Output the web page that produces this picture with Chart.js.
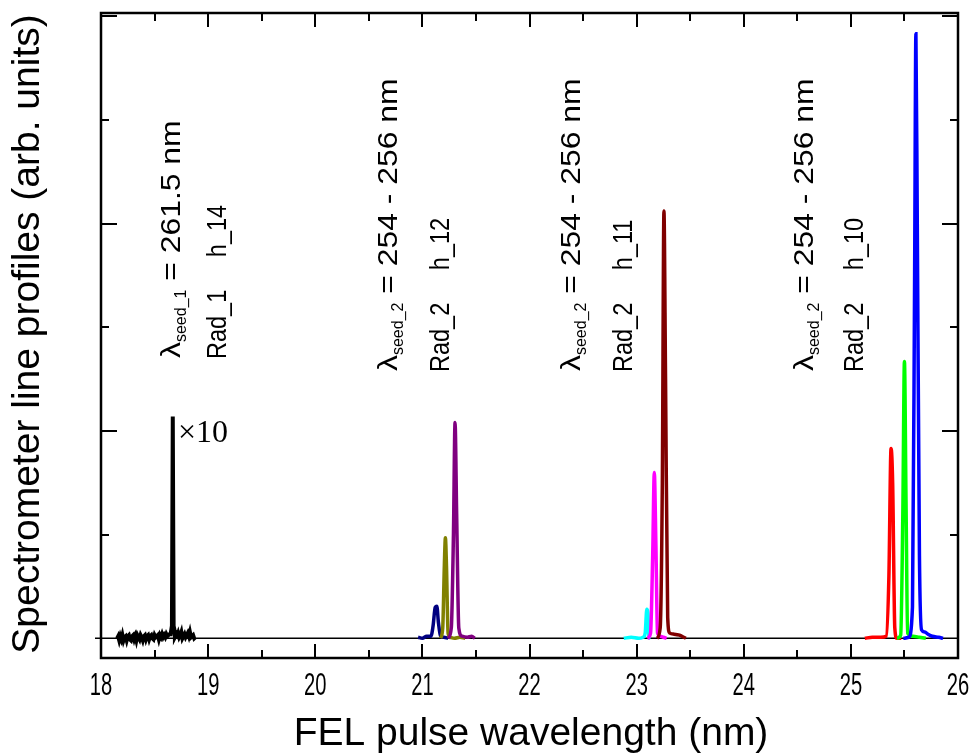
<!DOCTYPE html>
<html><head><meta charset="utf-8">
<script src="https://cdn.jsdelivr.net/npm/chart.js@4/dist/chart.umd.min.js"></script>
<style>html,body{margin:0;padding:0;background:#fff;}#wrap{width:974px;height:755px;}</style>
</head><body><div id="wrap"><canvas id="c" width="974" height="755"></canvas></div>
<script>
// ---- data ----
const xTickLabels = [18, 19, 20, 21, 22, 23, 24, 25, 26];

const blackX = [18.15,18.16,18.17,18.18,18.19,18.20,18.21,18.22,18.23,18.24,18.25,18.26,18.27,18.28,18.29,18.30,18.31,18.32,18.33,18.34,18.35,18.36,18.37,18.38,18.39,18.40,18.41,18.42,18.43,18.44,18.45,18.46,18.47,18.48,18.49,18.50,18.51,18.52,18.53,18.54,18.55,18.56,18.57,18.58,18.59,18.60,18.61,18.62,18.63,18.64,18.65,18.662,18.670,18.678,18.686,18.69,18.70,18.71,18.72,18.73,18.74,18.75,18.76,18.77,18.78,18.79,18.80,18.81,18.82,18.83,18.84,18.85,18.86,18.87,18.88];
const blackY = [0.00,0.02,-0.02,0.02,-0.01,0.03,-0.02,0.01,0.02,-0.02,0.02,0.03,-0.01,-0.02,0.02,0.03,-0.01,0.02,-0.02,0.03,0.01,-0.01,0.03,0.01,-0.02,0.02,0.03,-0.01,0.02,0.03,-0.01,0.02,0.03,0.00,-0.01,0.03,0.01,0.02,0.03,-0.01,0.03,0.01,0.04,0.01,0.03,0.01,0.04,0.02,0.03,0.04,0.04,0.12,2.14,0.12,0.08,0.01,0.03,0.02,0.05,0.01,0.03,0.06,0.00,0.02,0.04,0.01,0.03,0.05,0.02,0.06,0.01,0.02,0.03,0.00,0.01];

const navyX = [20.96,21.00,21.04,21.08,21.10,21.12,21.135,21.15,21.17,21.20,21.24];
const navyY = [0.01,0.00,0.02,0.02,0.12,0.30,0.31,0.15,0.02,0.01,0.00];

const oliveX = [21.17,21.19,21.205,21.215,21.225,21.24,21.26,21.30,21.35,21.40];
const oliveY = [0.00,0.10,0.70,0.97,0.70,0.05,0.01,0.00,0.01,0.00];

const purpleX = [21.24,21.27,21.29,21.305,21.32,21.34,21.37,21.42,21.46,21.49];
const purpleY = [0.00,0.10,1.00,2.08,1.20,0.10,0.02,0.01,0.02,0.00];

const cyanX = [22.88,22.95,23.02,23.06,23.08,23.095,23.105,23.115,23.13];
const cyanY = [0.00,0.01,0.00,0.01,0.05,0.28,0.25,0.02,0.00];

const magentaX = [23.10,23.13,23.15,23.165,23.18,23.195,23.22,23.25,23.28];
const magentaY = [0.00,0.05,0.80,1.60,0.90,0.05,0.02,0.01,0.00];

const darkRedX = [23.19,23.22,23.24,23.255,23.27,23.29,23.31,23.35,23.40,23.44,23.46];
const darkRedY = [0.00,0.10,1.50,4.12,2.50,0.20,0.05,0.04,0.03,0.01,0.00];

const redX = [25.13,25.20,25.28,25.33,25.355,25.375,25.39,25.41,25.43,25.47];
const redY = [0.00,0.01,0.01,0.02,0.60,1.83,1.50,0.10,0.00,0.00];

const greenX = [25.43,25.465,25.485,25.50,25.515,25.53,25.58,25.64,25.70];
const greenY = [0.00,0.03,1.20,2.67,1.30,0.05,0.02,0.01,0.00];

const blueX = [25.49,25.54,25.575,25.595,25.607,25.62,25.64,25.66,25.69,25.72,25.76,25.82,25.86];
const blueY = [0.00,0.01,0.30,3.50,5.83,4.00,0.80,0.08,0.06,0.04,0.02,0.01,0.00];

const seriesList = [
  {xs: blackX, ys: blackY, color: '#000000', width: 4, straight: true},
  {xs: navyX, ys: navyY, color: '#000080'},
  {xs: oliveX, ys: oliveY, color: '#808000'},
  {xs: purpleX, ys: purpleY, color: '#800080'},
  {xs: cyanX, ys: cyanY, color: '#00ffff'},
  {xs: magentaX, ys: magentaY, color: '#ff00ff'},
  {xs: darkRedX, ys: darkRedY, color: '#800000'},
  {xs: redX, ys: redY, color: '#ff0000'},
  {xs: greenX, ys: greenY, color: '#00ff00'},
  {xs: blueX, ys: blueY, color: '#0000ff'}
];

const annotations = [
  {lx: 180, rx: 226, bottom: 358, sub: 'seed_1', rest: ' = 261.5 nm', rad: 'Rad_1     h_14'},
  {lx: 397, rx: 449, bottom: 371, sub: 'seed_2', rest: ' = 254 - 256 nm', rad: 'Rad_2     h_12'},
  {lx: 580, rx: 632, bottom: 371, sub: 'seed_2', rest: ' = 254 - 256 nm', rad: 'Rad_2     h_11'},
  {lx: 813, rx: 863, bottom: 371, sub: 'seed_2', rest: ' = 254 - 256 nm', rad: 'Rad_2     h_10'}
];

const datasets = seriesList.map((s, i) => ({
  data: s.xs.map((x, k) => ({x: x, y: s.ys[k]})),
  borderColor: s.color,
  borderWidth: s.width || 3.5,
  pointRadius: 0,
  fill: false,
  cubicInterpolationMode: s.straight ? 'default' : 'monotone',
  tension: 0,
  order: seriesList.length - i
}));

const deco = {
  id: 'deco',
  beforeDatasetsDraw(chart) {
    const ctx = chart.ctx, ys = chart.scales.y, a = chart.chartArea;
    ctx.save();
    ctx.strokeStyle = '#000';
    ctx.lineWidth = 1.5;
    const y0 = ys.getPixelForValue(0);
    ctx.beginPath(); ctx.moveTo(a.left - 6, y0); ctx.lineTo(a.right, y0); ctx.stroke();
    ctx.restore();
  },
  afterDraw(chart) {
    const ctx = chart.ctx, xs = chart.scales.x, ys = chart.scales.y, a = chart.chartArea;
    ctx.save();
    ctx.strokeStyle = '#000';
    ctx.lineWidth = 2.5;
    ctx.strokeRect(a.left, a.top, a.right - a.left, a.bottom - a.top);
    ctx.lineWidth = 2;
    for (let v = 18.5; v < 26; v += 0.5) {
      const px = Math.round(xs.getPixelForValue(v));
      const len = Number.isInteger(v) ? 14 : 8;
      ctx.beginPath();
      ctx.moveTo(px, a.bottom); ctx.lineTo(px, a.bottom - len);
      ctx.moveTo(px, a.top); ctx.lineTo(px, a.top + len);
      ctx.stroke();
    }
    for (let v = 1; v <= 6; v += 1) {
      const py = Math.round(ys.getPixelForValue(v));
      const len = v % 2 === 0 ? 16 : 8;
      ctx.beginPath();
      ctx.moveTo(a.left, py); ctx.lineTo(a.left + len, py);
      ctx.moveTo(a.right, py); ctx.lineTo(a.right - len, py);
      ctx.stroke();
    }
    ctx.fillStyle = '#000';
    ctx.textAlign = 'center';
    ctx.textBaseline = 'alphabetic';
    ctx.font = '32px "Liberation Sans", Arial, sans-serif';
    xTickLabels.forEach(t => {
      const px = xs.getPixelForValue(t);
      ctx.save();
      ctx.translate(px, 695);
      ctx.scale(0.63, 1);
      ctx.fillText(String(t), 0, 0);
      ctx.restore();
    });
    ctx.font = '39px "Liberation Sans", Arial, sans-serif';
    ctx.fillText('FEL pulse wavelength (nm)', 531, 745);
    ctx.save();
    ctx.translate(39, 334);
    ctx.rotate(-Math.PI / 2);
    ctx.fillText('Spectrometer line profiles (arb. units)', 0, 0);
    ctx.restore();
    ctx.textAlign = 'left';
    ctx.font = '32px "Liberation Serif", "Times New Roman", serif';
    ctx.fillText('\u00d710', 178, 442);
    annotations.forEach(an => {
      ctx.save();
      ctx.translate(an.lx, an.bottom);
      ctx.rotate(-Math.PI / 2);
      ctx.textAlign = 'left';
      ctx.save();
      ctx.scale(1.18, 1);
      ctx.font = '27px "Liberation Sans", Arial, sans-serif';
      ctx.fillText('\u03bb', 0, 0);
      ctx.restore();
      ctx.font = '27px "Liberation Sans", Arial, sans-serif';
      let off = ctx.measureText('\u03bb').width * 1.18;
      ctx.font = '16px "Liberation Sans", Arial, sans-serif';
      ctx.fillText(an.sub, off, 6);
      off += ctx.measureText(an.sub).width;
      ctx.translate(off, 0);
      ctx.scale(1.18, 1);
      ctx.font = '27px "Liberation Sans", Arial, sans-serif';
      ctx.fillText(an.rest, 0, 0);
      ctx.restore();
      ctx.save();
      ctx.translate(an.rx, an.bottom + 1);
      ctx.rotate(-Math.PI / 2);
      ctx.scale(0.87, 1);
      ctx.font = '27px "Liberation Sans", Arial, sans-serif';
      ctx.fillText(an.rad, 0, 0);
      ctx.restore();
    });
    ctx.restore();
  }
};

new Chart(document.getElementById('c'), {
  type: 'line',
  data: {datasets: datasets},
  options: {
    responsive: false,
    animation: false,
    events: [],
    layout: {padding: {top: 13, right: 16, left: 0, bottom: 0}},
    plugins: {legend: {display: false}, tooltip: {enabled: false}},
    scales: {
      x: {
        type: 'linear', min: 18, max: 26,
        ticks: {display: false},
        grid: {display: false},
        border: {display: false},
        afterFit(s) { s.height = 97; }
      },
      y: {
        type: 'linear', min: -0.19, max: 6.03,
        ticks: {display: false},
        grid: {display: false},
        border: {display: false},
        afterFit(s) { s.width = 101; }
      }
    }
  },
  plugins: [deco]
});
</script>
</body></html>
